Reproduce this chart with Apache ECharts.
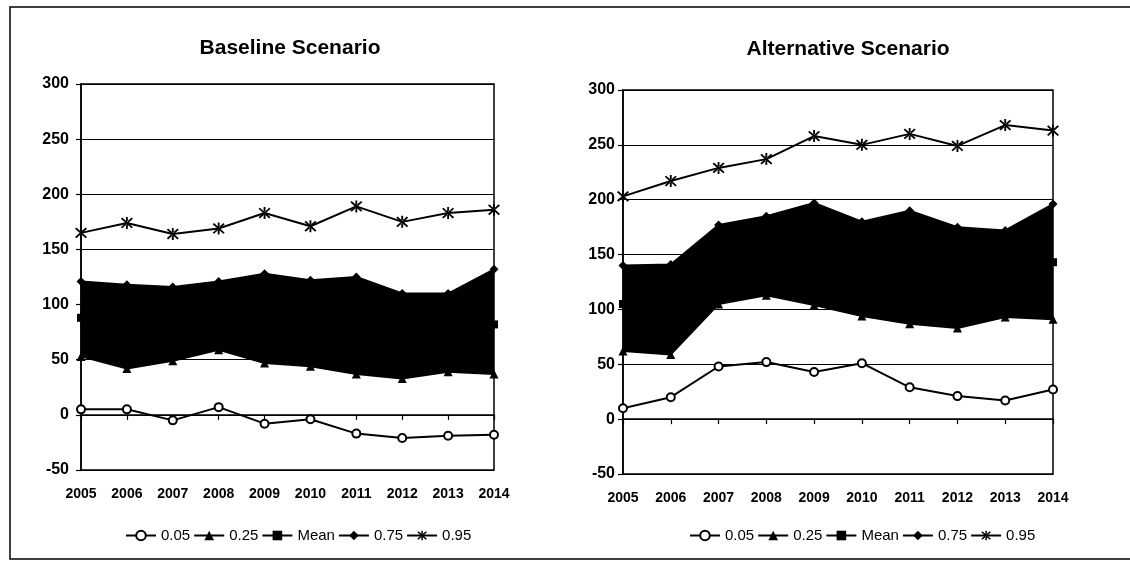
<!DOCTYPE html>
<html><head><meta charset="utf-8">
<script src="https://cdn.jsdelivr.net/npm/echarts@6/dist/echarts.min.js"></script>
<style>html,body{margin:0;padding:0;background:#fff}#c{width:1130px;height:565px}</style>
</head><body><div id="c"></div>
<script>
const years = ['2005','2006','2007','2008','2009','2010','2011','2012','2013','2014'];
const yTicks = [-50, 0, 50, 100, 150, 200, 250, 300];
const seriesNames = ['0.05','0.25','Mean','0.75','0.95'];

// Baseline Scenario
const baseP05  = [5, 5, -5, 7, -8, -4, -17, -21, -19, -18];
const baseP25  = [53, 42, 49, 59, 47, 44, 37, 33, 39, 37];
const baseMean = [88, 84, 84, 90, 88, 84, 82, 72, 74, 82];
const baseP75  = [121, 118, 116, 121, 128, 122, 125, 110, 110, 132];
const baseP95  = [165, 174, 164, 169, 183, 171, 189, 175, 183, 186];

// Alternative Scenario
const altP05  = [10, 20, 48, 52, 43, 51, 29, 21, 17, 27];
const altP25  = [62, 59, 105, 113, 104, 94, 87, 83, 93, 91];
const altMean = [105, 104, 140, 150, 152, 138, 139, 128, 132, 143];
const altP75  = [140, 141, 177, 185, 197, 180, 190, 175, 172, 196];
const altP95  = [203, 217, 229, 237, 258, 250, 260, 249, 268, 263];

const FONT = '"Liberation Sans", Arial, sans-serif';
const star = 'path://M-0.7,-5L0.7,-5L0.7,5L-0.7,5Z M-4.5,-3.5L-3.5,-4.5L4.5,3.5L3.5,4.5Z M-4.5,3.5L-3.5,4.5L4.5,-3.5L3.5,-4.5Z';
const symbols = ['emptyCircle','triangle','rect','diamond', star];
const symSizes = [8, 9, 8, 9, 12];

function panelSeries(idx, arrs) {
  const out = [];
  out.push({
    type:'line', name:'_base'+idx, xAxisIndex:idx, yAxisIndex:idx, stack:'band'+idx,
    data: arrs[1], symbol:'none', lineStyle:{opacity:0}, silent:true, z:1
  });
  out.push({
    type:'line', name:'_band'+idx, xAxisIndex:idx, yAxisIndex:idx, stack:'band'+idx,
    data: arrs[3].map((v,i)=>v - arrs[1][i]), symbol:'none', lineStyle:{opacity:0},
    areaStyle:{color:'#000', opacity:1}, silent:true, z:1
  });
  arrs.forEach((d,k)=>{
    out.push({
      type:'line', name:seriesNames[k], xAxisIndex:idx, yAxisIndex:idx, data:d,
      symbol:symbols[k], symbolSize:symSizes[k], showAllSymbol:true,
      lineStyle:{color:'#000', width:2},
      itemStyle:{color:'#000', borderColor:'#000', borderWidth: k===0?2:0},
      z:3
    });
  });
  return out;
}

const grids = [
  {left:81, top:84, width:413, height:386},
  {left:623, top:90, width:430, height:384}
];

function xAx(i){
  return {type:'category', gridIndex:i, data:years, boundaryGap:false,
    axisLine:{lineStyle:{color:'#000', width:1.5}},
    axisTick:{show:true, length:5, lineStyle:{color:'#000', width:1.2}},
    axisLabel:{color:'#000', fontFamily:FONT, fontWeight:'bold', fontSize:14, margin:17},
    splitLine:{show:false}};
}
function yAx(i, m){
  return {type:'value', gridIndex:i, min:yTicks[0], max:yTicks[yTicks.length-1], interval:50,
    axisLine:{show:true, lineStyle:{color:'#000', width:1.5}},
    axisTick:{show:true, length:5, lineStyle:{color:'#000', width:1.2}},
    axisLabel:{color:'#000', fontFamily:FONT, fontWeight:'bold', fontSize:16, margin:m},
    splitLine:{show:true, lineStyle:{color:'#000', width:1.2}}};
}

const legendCommon = {
  data: seriesNames, orient:'horizontal', itemWidth:30, itemHeight:12, itemGap:3,
  textStyle:{color:'#000', fontFamily:FONT, fontSize:15}
};

const chart = echarts.init(document.getElementById('c'), null, {renderer:'canvas'});
chart.setOption({
  backgroundColor:'#fff',
  animation:false,
  title:[
    {text:'Baseline Scenario', left:285, top:33, textAlign:'center',
      textStyle:{fontFamily:FONT, fontWeight:'bold', fontSize:21, color:'#000'}},
    {text:'Alternative Scenario', left:843, top:34, textAlign:'center',
      textStyle:{fontFamily:FONT, fontWeight:'bold', fontSize:21, color:'#000'}}
  ],
  grid: grids.map(g=>Object.assign({show:true, borderColor:'#000', borderWidth:1.5, backgroundColor:'transparent'}, g)),
  xAxis:[xAx(0), xAx(1)],
  yAxis:[yAx(0, 12), yAx(1, 8)],
  legend:[
    Object.assign({}, legendCommon, {left:120, top:523}),
    Object.assign({}, legendCommon, {left:684, top:523})
  ],
  graphic:[
    {type:'rect', shape:{x:10, y:7, width:1140, height:552}, style:{fill:'none', stroke:'#000', lineWidth:1.5}, silent:true, z:-1}
  ],
  series: [].concat(
    panelSeries(0, [baseP05, baseP25, baseMean, baseP75, baseP95]),
    panelSeries(1, [altP05, altP25, altMean, altP75, altP95])
  )
});
</script>
</body></html>
